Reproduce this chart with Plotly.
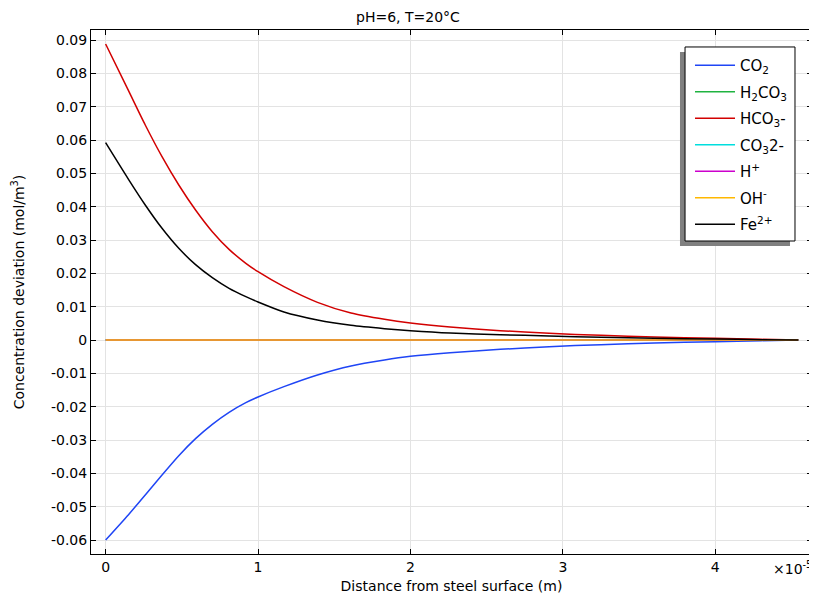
import plotly.graph_objects as go

# x in units of 1e-5 m
x = [0, 0.15, 0.26, 0.37, 0.48, 0.59, 0.70, 0.81, 0.92, 1.0, 1.17, 1.39, 1.61,
     1.83, 2.0, 2.26, 2.59, 2.91, 3.25, 3.6, 4.0, 4.3, 4.545]

co2 = [-0.0600, -0.0524, -0.0465, -0.0405, -0.0347, -0.0296, -0.0253, -0.0217,
       -0.0188, -0.0171, -0.0140, -0.0105, -0.0078, -0.0060, -0.0049, -0.0038,
       -0.0028, -0.0020, -0.0014, -0.0009, -0.0005, -0.0002, 0.0]
h2co3 = [0.0] * len(x)
hco3 = [0.0888, 0.0748, 0.0645, 0.0550, 0.0465, 0.0390, 0.0325, 0.0272, 0.0230,
        0.0205, 0.0160, 0.0113, 0.0081, 0.0062, 0.0051, 0.0039, 0.0028, 0.0020,
        0.0014, 0.0009, 0.0005, 0.0002, 0.0]
co3 = [0.0] * len(x)
hplus = [0.0] * len(x)
ohminus = [0.0] * len(x)
fe = [0.0592, 0.0482, 0.0405, 0.0335, 0.0275, 0.0226, 0.0187, 0.0155, 0.0130,
      0.0114, 0.0084, 0.0060, 0.0044, 0.0034, 0.0028, 0.0021, 0.0016, 0.0012,
      0.0008, 0.0005, 0.0003, 0.0001, 0.0]

names = ["CO<sub>2</sub>", "H<sub>2</sub>CO<sub>3</sub>", "HCO<sub>3</sub>-",
         "CO<sub>3</sub>2-", "H<sup>+</sup>", "OH<sup>-</sup>", "Fe<sup>2+</sup>"]
series = [co2, h2co3, hco3, co3, hplus, ohminus, fe]
colors = ["#1f45f5", "#1fb340", "#d20000", "#00dede", "#cc00cc", "#ffb800", "#000000"]

xticks = [0, 1, 2, 3, 4]
xticklabels = ["0", "1", "2", "3", "4"]
yticks = [0.09, 0.08, 0.07, 0.06, 0.05, 0.04, 0.03, 0.02, 0.01, 0,
          -0.01, -0.02, -0.03, -0.04, -0.05, -0.06]
yticklabels = ["0.09", "0.08", "0.07", "0.06", "0.05", "0.04", "0.03", "0.02",
               "0.01", "0", "-0.01", "-0.02", "-0.03", "-0.04", "-0.05", "-0.06"]

fig = go.Figure()
for i, (n, s, c) in enumerate(zip(names, series, colors)):
    fig.add_trace(go.Scatter(x=x, y=s, mode="lines", name=n, legendgroup=f"g{i}",
                             line=dict(color=c, width=1.5, shape="spline",
                                       smoothing=0.7)))

font = "DejaVu Sans"
# page body has an 8px margin; figure is sized/offset to compensate
fig.update_layout(
    width=809, height=592,
    margin=dict(l=83, r=5, t=22, b=46),
    paper_bgcolor="white", plot_bgcolor="white",
    font=dict(family=font, size=14, color="black"),
    title=dict(text="pH=6, T=20°C", x=0.4944, xref="container", xanchor="center",
               y=0.9845, yanchor="middle", font=dict(size=14)),
    showlegend=True,
    legend=dict(x=0.8308, y=0.9637, xanchor="left", yanchor="top",
                bgcolor="rgba(0,0,0,0)", borderwidth=0,
                font=dict(size=15), tracegroupgap=4, itemwidth=40),
)
fig.update_xaxes(range=[-0.096, 4.635], tickvals=xticks, ticktext=xticklabels,
                 ticks="inside", ticklen=5, tickcolor="black", mirror="ticks",
                 showline=True, linecolor="black", linewidth=1,
                 showgrid=True, gridcolor="#e3e3e3", gridwidth=1, zeroline=False,
                 title=dict(text="Distance from steel surface (m)", standoff=7,
                            font=dict(size=14)),
                 tickfont=dict(size=14), automargin=False)
fig.update_yaxes(range=[-0.0642, 0.0930], tickvals=yticks, ticktext=yticklabels,
                 ticks="inside", ticklen=5, tickcolor="black", mirror="ticks",
                 showline=True, linecolor="black", linewidth=1,
                 showgrid=True, gridcolor="#e3e3e3", gridwidth=1, zeroline=False,
                 title=dict(text="Concentration deviation (mol/m<sup>3</sup>)",
                            standoff=23, font=dict(size=14)),
                 tickfont=dict(size=14), automargin=False)

# legend shadow and box
fig.add_shape(type="rect", xref="paper", yref="paper",
              x0=0.8169, x1=0.9695, y0=0.5878, y1=0.958,
              fillcolor="#808080", line=dict(width=0), layer="above")
fig.add_shape(type="rect", xref="paper", yref="paper",
              x0=0.8239, x1=0.9764, y0=0.5973, y1=0.9676,
              fillcolor="white", line=dict(width=1, color="black"), layer="above")

fig.add_annotation(text="×10<sup>-5</sup>", xref="paper", yref="paper",
                   x=1.003, y=-0.027, xanchor="right", yanchor="middle",
                   showarrow=False, font=dict(size=14))

fig.write_html("out.html")
